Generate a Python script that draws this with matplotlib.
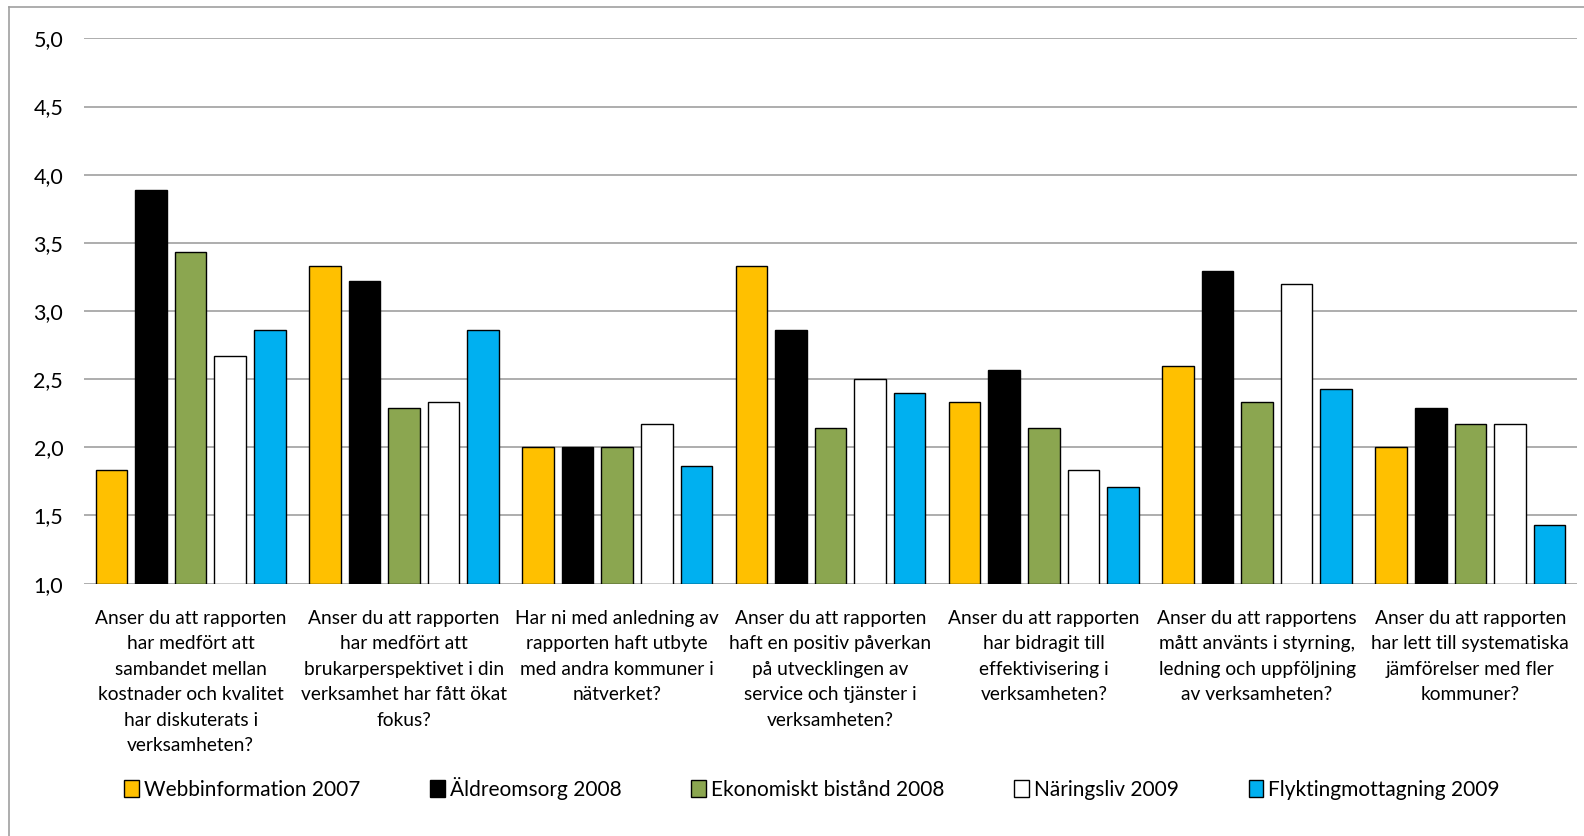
import matplotlib
matplotlib.use('Agg')
import matplotlib.pyplot as plt
import numpy as np
from matplotlib.lines import Line2D
from matplotlib.patches import Patch

plt.rcParams['font.family'] = ['Lato', 'DejaVu Sans']

# data
categories = [
    'Anser du att rapporten\nhar medfört att\nsambandet mellan\nkostnader och kvalitet\nhar diskuterats i\nverksamheten?',
    'Anser du att rapporten\nhar medfört att\nbrukarperspektivet i din\nverksamhet har fått ökat\nfokus?',
    'Har ni med anledning av\nrapporten haft utbyte\nmed andra kommuner i\nnätverket?',
    'Anser du att rapporten\nhaft en positiv påverkan\npå utvecklingen av\nservice och tjänster i\nverksamheten?',
    'Anser du att rapporten\nhar bidragit till\neffektivisering i\nverksamheten?',
    'Anser du att rapportens\nmått använts i styrning,\nledning och uppföljning\nav verksamheten?',
    'Anser du att rapporten\nhar lett till systematiska\njämförelser med fler\nkommuner?',
]
series_names = ['Webbinformation 2007', 'Äldreomsorg 2008', 'Ekonomiskt bistånd 2008',
                'Näringsliv 2009', 'Flyktingmottagning 2009']
webbinformation = [1.83, 3.33, 2.00, 3.33, 2.33, 2.60, 2.00]
aldreomsorg = [3.89, 3.22, 2.00, 2.86, 2.57, 3.29, 2.29]
ekonomiskt = [3.43, 2.29, 2.00, 2.14, 2.14, 2.33, 2.17]
naringsliv = [2.67, 2.33, 2.17, 2.50, 1.83, 3.20, 2.17]
flykting = [2.86, 2.86, 1.86, 2.40, 1.71, 2.43, 1.43]
yticks = [1.0, 1.5, 2.0, 2.5, 3.0, 3.5, 4.0, 4.5, 5.0]

series = [webbinformation, aldreomsorg, ekonomiskt, naringsliv, flykting]
colors = ['#FFC000', '#000000', '#8BA650', '#FFFFFF', '#00B0F0']

fig = plt.figure(figsize=(15.84, 8.36), dpi=100)
ax = fig.add_axes([84 / 1584, 1 - 583.6 / 836, (1577 - 84) / 1584, (583.6 - 38.4) / 836])

x = np.arange(len(categories))
pitch = 0.1855
width = 0.148
for j, (vals, col) in enumerate(zip(series, colors)):
    vals = np.array(vals)
    ax.bar(x + (j - 2) * pitch, vals - 1.0, width, bottom=1.0, color=col,
           edgecolor='black', linewidth=1.0, zorder=3)

ax.set_xlim(-0.5, len(categories) - 0.5)
ax.set_ylim(1.0, 5.0)
ax.set_yticks(yticks)
ax.set_yticklabels([f'{v:.1f}'.replace('.', ',') for v in yticks], fontsize=15.5)
ax.set_xticks(x)
ax.set_xticklabels(categories, fontsize=13.8, linespacing=1.6)
ax.tick_params(axis='both', length=0)
ax.tick_params(axis='y', pad=15)
ax.tick_params(axis='x', pad=19)
ax.grid(axis='y', color='#A0A0A0', linewidth=1.2, zorder=0)
ax.set_axisbelow(True)
for s in ax.spines.values():
    s.set_visible(False)

# outer chart border (only top and left are inside the picture)
fig.add_artist(Line2D([9 / 1584, 9 / 1584], [0, 1 - 7 / 836], color='#A0A0A0', linewidth=1.2))
fig.add_artist(Line2D([9 / 1584, 1], [1 - 7 / 836, 1 - 7 / 836], color='#A0A0A0', linewidth=1.2))

handles = [Patch(facecolor=c, edgecolor='black', linewidth=1.0) for c in colors]
fig.legend(handles, series_names, loc='center', bbox_to_anchor=(812 / 1584, 1 - 788 / 836),
           ncol=5, frameon=False, fontsize=15, handlelength=0.7, handleheight=0.9,
           handletextpad=0.25, columnspacing=3.35)

fig.savefig('out.png', dpi=100)
